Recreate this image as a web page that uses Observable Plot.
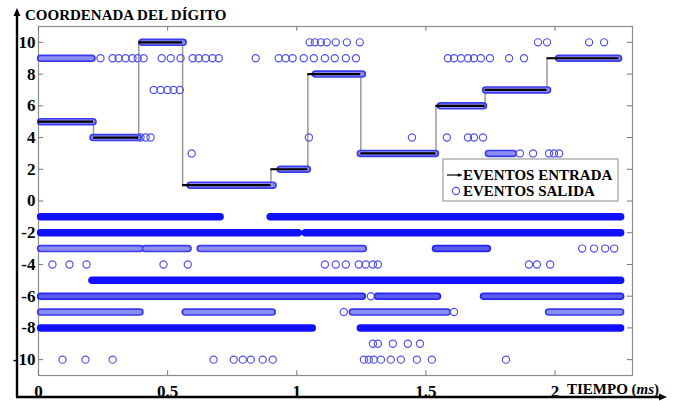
<!DOCTYPE html>
<html><head><meta charset="utf-8">
<script src="https://cdn.jsdelivr.net/npm/d3@7"></script>
<script src="https://cdn.jsdelivr.net/npm/@observablehq/plot@0.6"></script>
<style>
html,body{margin:0;padding:0;background:#fff;}
#chart{width:675px;height:401px;}
svg{font-family:"Liberation Serif","Times New Roman",serif;}
</style></head><body><div id="chart"></div>
<script>
// ---- data (ms on x, digit coordinate on y) ----
const xTicks = [0, 0.5, 1, 1.5, 2];
const yTicks = [-10, -8, -6, -4, -2, 0, 2, 4, 6, 8, 10];

// input events: stepwise digit coordinate
const stepStart = [0, 0.213, 0.388, 0.558, 0.900, 1.043, 1.248, 1.539, 1.729, 1.969];
const stepValue = [5, 4, 10, 1, 2, 8, 3, 6, 7, 9];
const stepEnd = 2.248;

// output events: continuous trains of circles [y, xStart, xEnd]
const solidTrains = [[-1, 0.01, 0.705], [-1, 0.899, 2.256], [-2, 0.01, 1.008], [-2, 1.035, 2.256],
  [-5, 0.209, 2.256], [-8, 0.01, 1.062], [-8, 1.248, 2.256]];
const darkTrains = [[-6, 0.01, 1.256], [-6, 1.314, 1.547], [-6, 1.725, 2.256], [-3, 1.539, 1.740]];
const lightTrains = [[-3, 0.01, 0.395], [-3, 0.415, 0.581], [-3, 0.628, 1.26],
  [-7, 0.01, 0.395], [-7, 0.570, 0.907], [-7, 1.217, 1.585], [-7, 1.977, 2.256],
  [9, 0.01, 0.209], [3, 1.744, 1.841]];
const stepTrains = [[5, 0.01, 0.213], [4, 0.213, 0.388], [10, 0.403, 0.562], [1, 0.589, 0.91],
  [2, 0.938, 1.043], [8, 1.074, 1.256], [3, 1.248, 1.539], [6, 1.558, 1.725], [7, 1.733, 1.973], [9, 2.016, 2.248]];

// output events: isolated circles, one list per row
const out10 = [1.050, 1.070, 1.093, 1.116, 1.151, 1.194, 1.244, 1.934, 1.969, 2.132, 2.190];
const out9 = [0.240, 0.287, 0.310, 0.337, 0.364, 0.384, 0.407, 0.477, 0.512, 0.550, 0.597, 0.620, 0.647, 0.674, 0.698,
  0.841, 0.930, 0.957, 0.984, 1.027, 1.066, 1.109, 1.147, 1.190, 1.229, 1.585, 1.609, 1.636, 1.663, 1.686, 1.713, 1.748, 1.822, 1.880];
const out7 = [0.446, 0.473, 0.500, 0.523, 0.547];
const out4 = [0.395, 0.415, 0.434, 1.047, 1.446, 1.581, 1.663, 1.686, 1.721];
const out3 = [0.593, 1.864, 1.915, 1.977, 1.996, 2.016];
const outM3 = [2.105, 2.151, 2.194, 2.229];
const outM4 = [0.054, 0.120, 0.186, 0.484, 0.578, 1.109, 1.151, 1.190, 1.240, 1.267, 1.295, 1.314, 1.899, 1.930, 1.981];
const outM6 = [1.287];
const outM7 = [1.182, 1.609];
const outM9 = [1.295, 1.314, 1.372, 1.430, 1.477];
const outM10 = [0.093, 0.182, 0.287, 0.678, 0.756, 0.791, 0.822, 0.868, 0.907, 1.260, 1.279, 1.298, 1.326, 1.364, 1.403, 1.465, 1.523, 1.810];

// ---- build tables ----
const stepPts = stepStart.map((x, i) => ({x, y: stepValue[i]})).concat([{x: stepEnd, y: stepValue[stepValue.length - 1]}]);
const stepSegs = stepStart.map((x, i) => ({y: stepValue[i], x1: x, x2: i < stepStart.length - 1 ? stepStart[i + 1] : stepEnd}));
const tr = a => a.map(([y, x1, x2]) => ({y, x1, x2}));
const rows = [[10, out10], [9, out9], [7, out7], [4, out4], [3, out3], [-3, outM3], [-4, outM4], [-6, outM6], [-7, outM7], [-9, outM9], [-10, outM10]];
const dots = rows.flatMap(([y, xs]) => xs.map(x => ({x, y})));

const serif = '"Liberation Serif","Times New Roman",serif';
const BLUE = "#1010ff";
const CIRC = "#5252e8";

const plot = Plot.plot({
  width: 675, height: 401,
  marginLeft: 38, marginRight: 43, marginTop: 26, marginBottom: 26,
  x: {domain: [0, 2.3]},
  y: {domain: [-11, 11]},
  style: {fontFamily: serif, background: "#fff", color: "#000"},
  marks: [
    Plot.frame({stroke: "#8c8c8c", strokeWidth: 1.2}),
    // inward ticks
    Plot.ruleX(xTicks, {x: d => d, y1: -11, y2: -10.7, stroke: "#777"}),
    Plot.ruleX(xTicks, {x: d => d, y1: 11, y2: 10.7, stroke: "#777"}),
    Plot.ruleY(yTicks, {y: d => d, x1: 0, x2: 0.02, stroke: "#777"}),
    Plot.ruleY(yTicks, {y: d => d, x1: 2.28, x2: 2.3, stroke: "#777"}),
    Plot.axisX(xTicks, {anchor: "bottom", tickSize: 0, tickPadding: 9, label: null, tickFormat: d => String(d), fontSize: 17, fontWeight: "bold", fontFamily: serif}),
    Plot.axisY(yTicks, {anchor: "left", tickSize: 0, tickPadding: 3, label: null, tickFormat: d => String(d), fontSize: 17, fontWeight: "bold", fontFamily: serif}),
    // input step connector
    Plot.line(stepPts, {x: "x", y: "y", curve: "step-after", stroke: "#9a9a9a", strokeWidth: 1.5}),
    // output trains
    Plot.ruleY(tr(solidTrains), {y: "y", x1: "x1", x2: "x2", stroke: BLUE, strokeWidth: 7.5, strokeLinecap: "round"}),
    Plot.ruleY(tr(darkTrains), {y: "y", x1: "x1", x2: "x2", stroke: "#2626f2", strokeWidth: 7.5, strokeLinecap: "round"}),
    Plot.ruleY(tr(darkTrains), {y: "y", x1: "x1", x2: "x2", stroke: "#5a5aee", strokeWidth: 4, strokeLinecap: "round"}),
    Plot.ruleY(tr(lightTrains).concat(tr(stepTrains)), {y: "y", x1: "x1", x2: "x2", stroke: "#3a3aee", strokeWidth: 7.5, strokeLinecap: "round"}),
    Plot.ruleY(tr(lightTrains).concat(tr(stepTrains)), {y: "y", x1: "x1", x2: "x2", stroke: "#8c8cf2", strokeWidth: 4.2, strokeLinecap: "round"}),
    Plot.dot(dots, {x: "x", y: "y", r: 3.6, stroke: CIRC, strokeWidth: 1.2, fill: "none"}),
    // input horizontal levels
    Plot.ruleY(stepSegs, {y: "y", x1: "x1", x2: "x2", stroke: "#000", strokeWidth: 2.2})
  ]
});
document.getElementById("chart").appendChild(plot);

// decorations: outer arrows, titles, legend
const svg = d3.select(plot);
const g = svg.append("g").attr("font-family", serif).attr("font-weight", "bold").attr("text-anchor", "start");
g.append("line").attr("x1", 17).attr("y1", 14).attr("x2", 17).attr("y2", 397).attr("stroke", "#000").attr("stroke-width", 2.4);
g.append("line").attr("x1", 16).attr("y1", 397).attr("x2", 660).attr("y2", 397).attr("stroke", "#000").attr("stroke-width", 2.4);
g.append("path").attr("d", "M17,8 L13.5,16 L20.5,16 Z").attr("fill", "#000");
g.append("path").attr("d", "M667,397 L659,393.5 L659,400.5 Z").attr("fill", "#000");
g.append("text").attr("x", 25).attr("y", 20).attr("font-size", 15).text("COORDENADA DEL DÍGITO");
const t = g.append("text").attr("x", 567).attr("y", 394).attr("font-size", 15);
t.append("tspan").text("TIEMPO (");
t.append("tspan").attr("font-style", "italic").text("ms");
t.append("tspan").text(")");
// legend
const lg = g.append("g");
lg.append("rect").attr("x", 443).attr("y", 159).attr("width", 175).attr("height", 42).attr("fill", "#fff").attr("stroke", "#8c8c8c");
lg.append("line").attr("x1", 447).attr("y1", 175).attr("x2", 462).attr("y2", 175).attr("stroke", "#000").attr("stroke-width", 1.2);
lg.append("circle").attr("cx", 459).attr("cy", 175).attr("r", 1.6).attr("fill", "#000");
lg.append("circle").attr("cx", 456).attr("cy", 191).attr("r", 3.6).attr("fill", "none").attr("stroke", CIRC).attr("stroke-width", 1.2);
lg.append("text").attr("x", 463).attr("y", 180).attr("font-size", 15).text("EVENTOS ENTRADA");
lg.append("text").attr("x", 463).attr("y", 196).attr("font-size", 15).text("EVENTOS SALIDA");
</script>
</body></html>
